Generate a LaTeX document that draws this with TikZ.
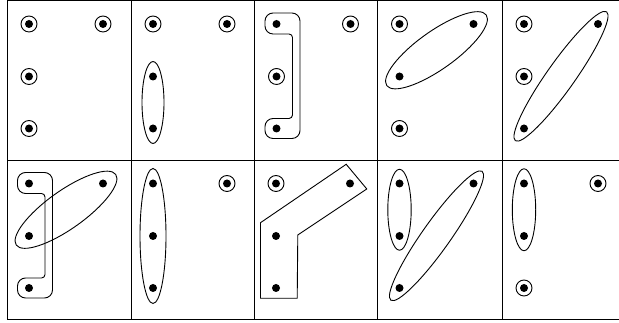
\documentclass[tikz,border=0pt]{standalone}
\usetikzlibrary{calc}
\begin{document}
\begin{tikzpicture}[x=1pt,y=1pt,
  dot/.style={circle,fill=black,inner sep=0pt,minimum size=8pt},
  ring/.style={circle,draw=black,line width=0.9pt,inner sep=0pt,minimum size=16pt,
    path picture={\fill[black] (path picture bounding box.center) circle (4pt);}},
  gridline/.style={line width=1pt,black},
  hull/.style={line width=0.9pt,black}]
\useasboundingbox (0,0) rectangle (619,323);
% grid
\draw[gridline] (7,322) -- (619,322);
\draw[gridline] (7,162) -- (619,162);
\draw[gridline] (7,3.5) -- (619,3.5);
\foreach \xx in {7,131,254,377.5,502} \draw[gridline] (\xx,3.5) -- (\xx,322);
% ---------- panel 1
\begin{scope}[shift={(7,322)}]
  \node[ring] (a1) at (22,-23) {};
  \node[ring] (b1) at (96,-23) {};
  \node[ring] (c1) at (22,-75.5) {};
  \node[ring] (d1) at (22,-127.5) {};
\end{scope}
% ---------- panel 2
\begin{scope}[shift={(131,322)}]
  \node[ring] (a2) at (22,-23) {};
  \node[ring] (b2) at (96,-23) {};
  \node[dot] (c2) at (22,-75.5) {};
  \node[dot] (d2) at (22,-127.5) {};
\end{scope}
\draw[hull] ($(c2)!.5!(d2)$) ellipse [x radius=11pt, y radius=41pt];
% ---------- panel 3
\begin{scope}[shift={(254.5,322)}]
  \node[dot] (a3) at (22,-23) {};
  \node[ring] (b3) at (96,-23) {};
  \node[ring] (c3) at (22,-75.5) {};
  \node[dot] (d3) at (22,-127.5) {};
\end{scope}
\draw[hull] ($(a3)+(5,11)$) [rounded corners=8pt] -- ($(a3)+(23.5,11)$) -- ($(d3)+(23.5,-10)$)
  -- ($(d3)+(-11.5,-10)$) -- ($(d3)+(-11.5,10)$) [rounded corners=3.5pt] -- ($(d3)+(16,10)$)
  -- ($(a3)+(16,-10)$) [rounded corners=8pt] -- ($(a3)+(-11.5,-10)$) -- ($(a3)+(-11.5,11)$) -- cycle;
% ---------- panel 4
\begin{scope}[shift={(377.5,322)}]
  \node[ring] (a4) at (22,-23) {};
  \node[dot] (b4) at (96,-23) {};
  \node[dot] (c4) at (22,-75.5) {};
  \node[ring] (d4) at (22,-127.5) {};
\end{scope}
\coordinate (m4) at ($(c4)!.5!(b4)$);
\draw[hull, rotate around={35.4:(m4)}] (m4) ellipse [x radius=61pt, y radius=19pt];
% ---------- panel 5
\begin{scope}[shift={(502,322)}]
  \node[ring] (a5) at (22,-23) {};
  \node[dot] (b5) at (96,-23) {};
  \node[ring] (c5) at (22,-75.5) {};
  \node[dot] (d5) at (22,-127.5) {};
\end{scope}
\coordinate (m5) at ($(d5)!.5!(b5)$);
\draw[hull, rotate around={54.7:(m5)}] (m5) ellipse [x radius=79pt, y radius=14pt];
% ---------- panel 6
\begin{scope}[shift={(7,162.5)}]
  \node[dot] (a6) at (22,-23) {};
  \node[dot] (b6) at (96,-23) {};
  \node[dot] (c6) at (22,-75.5) {};
  \node[dot] (d6) at (22,-127.5) {};
\end{scope}
\draw[hull] ($(a6)+(5,11)$) [rounded corners=8pt] -- ($(a6)+(23.5,11)$) -- ($(d6)+(23.5,-10)$)
  -- ($(d6)+(-11.5,-10)$) -- ($(d6)+(-11.5,10)$) [rounded corners=3.5pt] -- ($(d6)+(16,10)$)
  -- ($(a6)+(16,-10)$) [rounded corners=8pt] -- ($(a6)+(-11.5,-10)$) -- ($(a6)+(-11.5,11)$) -- cycle;
\coordinate (m6) at ($(c6)!.5!(b6)$);
\draw[hull, rotate around={35.4:(m6)}] (m6) ellipse [x radius=61pt, y radius=19pt];
% ---------- panel 7
\begin{scope}[shift={(131,162.5)}]
  \node[dot] (a7) at (22,-23) {};
  \node[ring] (b7) at (96,-23) {};
  \node[dot] (c7) at (22,-75.5) {};
  \node[dot] (d7) at (22,-127.5) {};
\end{scope}
\draw[hull] (c7) ellipse [x radius=13pt, y radius=67.5pt];
% ---------- panel 8
\begin{scope}[shift={(254,162.5)}]
  \node[ring] (a8) at (22,-23) {};
  \node[dot] (b8) at (96,-23) {};
  \node[dot] (c8) at (22,-75.5) {};
  \node[dot] (d8) at (22,-127.5) {};
  \draw[hull] (6.5,-62.2) -- (92.2,-3.8) -- (112.8,-28.5) -- (43.8,-74.5)
    -- (43.2,-137.8) -- (6.5,-137.8) -- cycle;
\end{scope}
% ---------- panel 9
\begin{scope}[shift={(377.5,162.5)}]
  \node[dot] (a9) at (22,-23) {};
  \node[dot] (b9) at (96,-23) {};
  \node[dot] (c9) at (22,-75.5) {};
  \node[dot] (d9) at (22,-127.5) {};
\end{scope}
\draw[hull] ($(a9)!.5!(c9)$) ellipse [x radius=11.7pt, y radius=40.5pt];
\coordinate (m9) at ($(d9)!.5!(b9)$);
\draw[hull, rotate around={54.7:(m9)}] (m9) ellipse [x radius=79pt, y radius=14pt];
% ---------- panel 10
\begin{scope}[shift={(502,162.5)}]
  \node[dot] (a10) at (22,-23) {};
  \node[ring] (b10) at (96,-23) {};
  \node[dot] (c10) at (22,-75.5) {};
  \node[ring] (d10) at (22,-127.5) {};
\end{scope}
\draw[hull] ($(a10)!.5!(c10)$) ellipse [x radius=11.7pt, y radius=41pt];
\end{tikzpicture}
\end{document}
